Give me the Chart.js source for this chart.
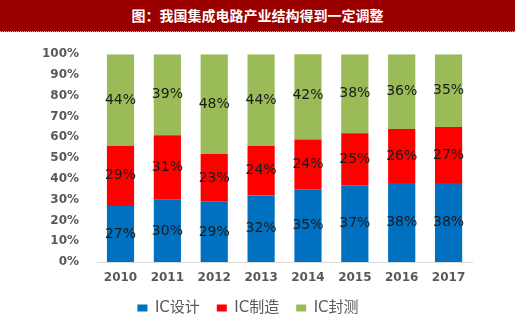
<!DOCTYPE html>
<html>
<head>
<meta charset="utf-8">
<script src="https://cdn.jsdelivr.net/npm/chart.js@4"></script>
<style>
  body { margin: 0; background: #fff; width: 520px; height: 322px; overflow: hidden; }
  .banner {
    position: absolute; left: 0; top: 0; width: 515px; height: 31px;
    background: #9b0000; border-bottom: 1px dotted #9fb6d8;
    color: #fff; font: bold 14px "Noto Sans CJK SC", sans-serif;
    text-align: center; line-height: 31px;
  }
  .wrap { position: absolute; left: 0; top: 29px; width: 500px; height: 293px; }
</style>
</head>
<body>
<div class="banner">图：我国集成电路产业结构得到一定调整</div>
<div class="wrap"><canvas id="chart"></canvas></div>
<script>
const years = ['2010', '2011', '2012', '2013', '2014', '2015', '2016', '2017'];
const design = [27, 30, 29, 32, 35, 37, 38, 38];
const manufacture = [29, 31, 23, 24, 24, 25, 26, 27];
const packaging = [44, 39, 48, 44, 42, 38, 36, 35];
const yTicks = [0, 10, 20, 30, 40, 50, 60, 70, 80, 90, 100];

// 막대 가운데에 값 표시
const barLabels = {
  id: 'barLabels',
  afterDatasetsDraw(chart) {
    const ctx = chart.ctx;
    ctx.save();
    ctx.font = '14px "DejaVu Sans"';
    ctx.fillStyle = '#1a1a1a';
    ctx.textAlign = 'center';
    ctx.textBaseline = 'middle';
    chart.data.datasets.forEach((ds, i) => {
      chart.getDatasetMeta(i).data.forEach((bar, j) => {
        const p = bar.getCenterPoint();
        ctx.fillText(ds.data[j] + '%', p.x, Math.max(p.y, chart.chartArea.top + 10));
      });
    });
    ctx.restore();
  }
};

new Chart(document.getElementById('chart').getContext('2d'), {
  type: 'bar',
  data: {
    labels: years,
    datasets: [
      { label: 'IC设计', data: design, backgroundColor: '#0070c0' },
      { label: 'IC制造', data: manufacture, backgroundColor: '#ff0000' },
      { label: 'IC封测', data: packaging, backgroundColor: '#9bbb59' }
    ]
  },
  options: {
    responsive: true,
    maintainAspectRatio: false,
    animation: false,
    datasets: { bar: { barPercentage: 0.58, categoryPercentage: 1 } },
    layout: { padding: { left: 24, right: 28, top: 8, bottom: -3.5 } },
    plugins: {
      legend: {
        position: 'bottom',
        labels: {
          boxWidth: 10, boxHeight: 7, padding: 17,
          color: '#595959',
          font: { family: '"DejaVu Sans", "Noto Sans CJK SC"', size: 15 }
        }
      },
      tooltip: { enabled: false }
    },
    scales: {
      x: {
        stacked: true,
        grid: { display: false, drawTicks: false },
        border: { color: '#d9d9d9' },
        ticks: { color: '#595959', padding: 9, font: { family: 'DejaVu Sans', size: 12, weight: 'bold' } },
        afterFit(axis) { axis.height -= 11; }
      },
      y: {
        stacked: true,
        min: 0, max: 100,
        afterBuildTicks(axis) { axis.ticks = yTicks.map(v => ({ value: v })); },
        grid: { display: false, drawTicks: false },
        border: { display: false },
        ticks: {
          color: '#595959', padding: 18,
          font: { family: 'DejaVu Sans', size: 12, weight: 'bold' },
          callback: v => v + '%'
        }
      }
    }
  },
  plugins: [barLabels]
});
</script>
</body>
</html>
